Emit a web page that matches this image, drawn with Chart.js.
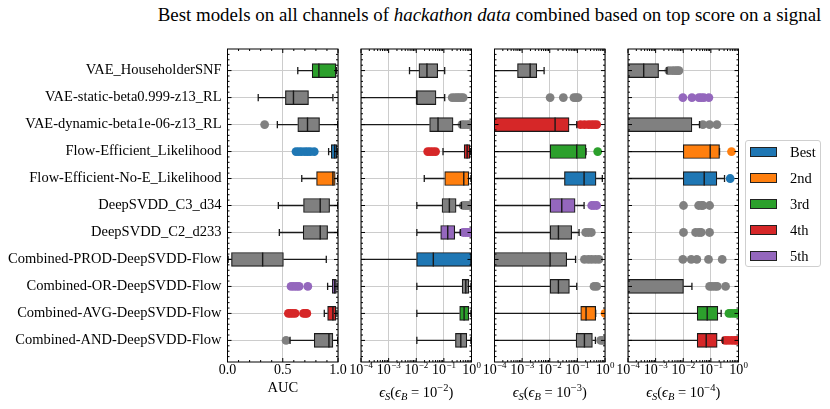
<!DOCTYPE html>
<html>
<head>
<meta charset="utf-8">
<title>Best models on all channels</title>
<script src="https://cdn.jsdelivr.net/npm/chart.js@4.4.1/dist/chart.umd.min.js"></script>
<style>
  body { margin: 0; background: #fff; }
  #fig { position: relative; width: 830px; height: 409px; font-family: 'Liberation Serif', 'DejaVu Serif', serif; color: #000; }
  #fig canvas { position: absolute; left: 0; top: 0; }
  #title { position: absolute; top: 4px; left: 489.5px; transform: translateX(-50%); white-space: nowrap; font-size: 18.9px; line-height: 22px; }
  #legend { position: absolute; left: 745px; top: 140px; width: 76px; height: 127px; border: 1px solid #cfcfcf; border-radius: 3px; box-sizing: border-box; }
  .item { position: absolute; left: 4px; height: 14px; font-size: 14.5px; line-height: 14px; }
  .swatch { position: absolute; left: 0; top: 1px; width: 27px; height: 10px; border: 1px solid #222; box-sizing: border-box; }
  .item span { position: absolute; left: 40px; top: -1px; white-space: nowrap; }
</style>
</head>
<body>
<div id="fig">
  <div id="title">Best models on all channels of <i>hackathon data</i> combined based on top score on a signal</div>
  <canvas id="p0" width="830" height="409"></canvas>
  <canvas id="p1" width="830" height="409"></canvas>
  <canvas id="p2" width="830" height="409"></canvas>
  <canvas id="p3" width="830" height="409"></canvas>
  <div id="legend"></div>
</div>
<script>
const SERIF = "'Liberation Serif', 'DejaVu Serif', serif";

const models = [
    'VAE_HouseholderSNF',
    'VAE-static-beta0.999-z13_RL',
    'VAE-dynamic-beta1e-06-z13_RL',
    'Flow-Efficient_Likelihood',
    'Flow-Efficient-No-E_Likelihood',
    'DeepSVDD_C3_d34',
    'DeepSVDD_C2_d233',
    'Combined-PROD-DeepSVDD-Flow',
    'Combined-OR-DeepSVDD-Flow',
    'Combined-AVG-DeepSVDD-Flow',
    'Combined-AND-DeepSVDD-Flow'
];

const rankNames = ['Best', '2nd', '3rd', '4th', '5th'];
const rankColors = ['#1f77b4', '#ff7f0e', '#2ca02c', '#d62728', '#9467bd'];
const otherColor = '#808080';

// rank of each model in a panel (index into rankNames, -1 = not ranked)
// boxes: [whisker low, Q1, median, Q3, whisker high], null = no box
const aucRanks = [2, -1, -1, 0, 1, -1, -1, -1, 4, 3, -1];
const aucBoxes = [
    [0.636, 0.766, 0.827, 0.981, 0.985],
    [0.278, 0.524, 0.597, 0.733, 0.954],
    [0.451, 0.636, 0.724, 0.833, 0.997],
    [0.915, 0.939, 0.970, 0.990, 0.998],
    [0.672, 0.806, 0.954, 0.975, 0.997],
    [0.460, 0.688, 0.839, 0.924, 0.997],
    [0.469, 0.685, 0.839, 0.906, 0.997],
    [0.006, 0.036, 0.318, 0.506, 0.894],
    [0.906, 0.948, 0.970, 0.985, 0.992],
    [0.876, 0.906, 0.954, 0.981, 0.990],
    [0.566, 0.785, 0.918, 0.954, 0.997]
];
const aucOutliers = [
    [], [], [0.336],
    [0.62, 0.645, 0.67, 0.70, 0.725, 0.75, 0.785],
    [], [], [], [],
    [0.575, 0.60, 0.625, 0.648, 0.727],
    [0.551, 0.57, 0.59, 0.612, 0.688, 0.705, 0.718],
    [0.53]
];

const eps2Ranks = [-1, -1, -1, 3, 1, -1, 4, 0, -1, 2, -1];
const eps2Boxes = [
    [0.0057, 0.0125, 0.0244, 0.0597, 0.107],
    [0, 0.0103, 0.0103, 0.0519, 0.107],
    [0, 0.0305, 0.0614, 0.215, 0.398],
    [0.093, 0.541, 0.695, 0.87, 0.93],
    [0.0195, 0.107, 0.525, 0.80, 0.95],
    [0.0105, 0.0857, 0.158, 0.277, 0.433],
    [0.0105, 0.0767, 0.138, 0.248, 0.398],
    [0, 0.0103, 0.0415, 0.97, 1.0],
    [0.0105, 0.458, 0.62, 0.80, 0.95],
    [0.0105, 0.373, 0.54, 0.80, 0.95],
    [0.0105, 0.262, 0.41, 0.676, 0.95]
];
const eps2Outliers = [
    [],
    [0.2, 0.25, 0.3, 0.35, 0.42, 0.5],
    [0.45, 0.55, 0.7, 0.85, 0.97],
    [0.026, 0.032, 0.04, 0.05],
    [],
    [0.5, 0.6, 0.7, 0.82, 0.95],
    [0.5, 0.6, 0.7, 0.82, 0.95],
    [], [], [], []
];

const eps3Ranks = [-1, -1, 3, 2, 0, 4, -1, -1, -1, 1, -1];
const eps3Boxes = [
    [0, 0.00068, 0.00195, 0.0034, 0.00625],
    null,
    [0, 0, 0.0156, 0.05, 0.095],
    [0, 0.0103, 0.095, 0.206, 0.206],
    [0, 0.034, 0.175, 0.474, 0.80],
    [0, 0.0103, 0.0272, 0.0826, 0.175],
    [0, 0.0103, 0.0206, 0.0625, 0.115],
    [0, 0, 0.0103, 0.0412, 0.086],
    [0, 0.0103, 0.0206, 0.0515, 0.095],
    [0, 0.132, 0.206, 0.46, 0.46],
    [0, 0.0898, 0.18, 0.35, 0.45]
];
const eps3Outliers = [
    [],
    [0.0103, 0.031, 0.075, 0.09, 0.105],
    [0.13, 0.18, 0.25, 0.32, 0.4, 0.5],
    [0.545],
    [],
    [0.33, 0.4, 0.5],
    [0.2, 0.25, 0.32],
    [0.18, 0.25, 0.33, 0.45, 0.6],
    [0.4, 0.5],
    [1.0],
    [0.7, 0.85, 1.0]
];

const eps4Ranks = [-1, 4, -1, 1, 0, -1, -1, -1, -1, 2, 3];
const eps4Boxes = [
    [0, 0, 0.00037, 0.00128, 0.00257],
    null,
    [0, 0, 0, 0.0206, 0.0389],
    [0, 0.01, 0.0946, 0.206, 0.206],
    [0, 0.01, 0.0574, 0.165, 0.312],
    null, null, null,
    [0, 0, 0, 0.0102, 0.0206],
    [0, 0.032, 0.0736, 0.179, 0.236],
    [0, 0.032, 0.0678, 0.169, 0.272]
];
const eps4Outliers = [
    [0.003, 0.004, 0.005, 0.006, 0.007],
    [0.0097, 0.0206, 0.0368, 0.045, 0.0558, 0.0847],
    [0.0514, 0.0895, 0.165],
    [0.558],
    [0.5],
    [0.0102, 0.036, 0.045, 0.052, 0.09],
    [0.0102, 0.028, 0.0368, 0.0447, 0.0895],
    [0.0097, 0.0195, 0.031, 0.082, 0.257],
    [0.09, 0.11, 0.14, 0.17, 0.34],
    [0.45, 0.55, 0.7, 0.85, 1.0],
    [0.33, 0.42, 0.55, 0.7, 0.85, 1.0]
];

const aucTicks = [0, 0.5, 1];
const aucTickLabels = ['0.0', '0.5', '1.0'];
const logTicks = [1e-4, 1e-3, 1e-2, 1e-1, 1];
const logTickExponents = ['\u22124', '\u22123', '\u22122', '\u22121', '0'];

// --- layout ---
const PANEL_W = 110.5;
const TOP = 49, BOTTOM = 362;

const panels = [
    { id: 'p0', left: 227.5, ranks: aucRanks, boxes: aucBoxes, outliers: aucOutliers, log: false, bExp: null },
    { id: 'p1', left: 361, ranks: eps2Ranks, boxes: eps2Boxes, outliers: eps2Outliers, log: true, bExp: '\u22122' },
    { id: 'p2', left: 494.5, ranks: eps3Ranks, boxes: eps3Boxes, outliers: eps3Outliers, log: true, bExp: '\u22123' },
    { id: 'p3', left: 628, ranks: eps4Ranks, boxes: eps4Boxes, outliers: eps4Outliers, log: true, bExp: '\u22124' }
];

const colorOf = r => r >= 0 ? rankColors[r] : otherColor;

// whiskers, caps and medians, drawn through the scales
const boxParts = {
    id: 'boxParts',
    afterDatasetsDraw(chart, args, opts) {
        const { ctx, chartArea: a, scales: { x, y } } = chart;
        const isLog = x.type === 'logarithmic';
        const px = v => (isLog && v <= 0) ? a.left - 20 : x.getPixelForValue(v);
        const ok = v => !(isLog && v <= 0);
        ctx.save();
        ctx.beginPath();
        ctx.rect(a.left, a.top, a.width, a.height);
        ctx.clip();
        ctx.strokeStyle = '#1a1a1a';
        ctx.lineWidth = 1.3;
        opts.boxes.forEach((b, i) => {
            if (!b) return;
            const [lo, q1, med, q3, hi] = b;
            const yc = y.getPixelForValue(i);
            const cap = 3.6, half = 7;
            ctx.beginPath();
            if (q1 > lo || !ok(q1)) {
                ctx.moveTo(px(lo), yc); ctx.lineTo(px(q1), yc);
            }
            if (hi > q3) {
                ctx.moveTo(px(q3), yc); ctx.lineTo(px(hi), yc);
            }
            if (ok(lo)) { ctx.moveTo(px(lo), yc - cap); ctx.lineTo(px(lo), yc + cap); }
            if (ok(hi)) { ctx.moveTo(px(hi), yc - cap); ctx.lineTo(px(hi), yc + cap); }
            ctx.stroke();
            if (ok(med)) {
                ctx.beginPath();
                ctx.lineWidth = 1.4;
                ctx.moveTo(px(med), yc - half); ctx.lineTo(px(med), yc + half);
                ctx.stroke();
                ctx.lineWidth = 1.3;
            }
        });
        ctx.restore();
    }
};

function drawSup(ctx, cx, base, main, sup, size) {
    const fMain = `${size}px ${SERIF}`;
    const fSup = `${size * 0.64}px ${SERIF}`;
    ctx.font = fMain; const w1 = ctx.measureText(main).width;
    ctx.font = fSup; const w2 = ctx.measureText(sup).width;
    let x0 = cx - (w1 + w2) / 2;
    ctx.textAlign = 'left';
    ctx.font = fMain; ctx.fillText(main, x0, base);
    ctx.font = fSup; ctx.fillText(sup, x0 + w1 + 0.3, base - size * 0.45);
}

function drawEpsTitle(ctx, cx, base, exp) {
    const big = 14.5, small = 10.5;
    const parts = [
        { t: '\u03F5', f: `italic ${big}px ${SERIF}`, dy: 0 },
        { t: 'S', f: `italic ${small}px ${SERIF}`, dy: 3 },
        { t: '(', f: `${big}px ${SERIF}`, dy: 0 },
        { t: '\u03F5', f: `italic ${big}px ${SERIF}`, dy: 0 },
        { t: 'B', f: `italic ${small}px ${SERIF}`, dy: 3 },
        { t: ' = 10', f: `${big}px ${SERIF}`, dy: 0 },
        { t: exp, f: `${small}px ${SERIF}`, dy: -6 },
        { t: ')', f: `${big}px ${SERIF}`, dy: 0 }
    ];
    let total = 0;
    parts.forEach(p => { ctx.font = p.f; p.w = ctx.measureText(p.t).width; total += p.w; });
    let xx = cx - total / 2;
    ctx.textAlign = 'left';
    parts.forEach(p => { ctx.font = p.f; ctx.fillText(p.t, xx, base + p.dy); xx += p.w; });
}

// frame, inward ticks and x labels
const frame = {
    id: 'frame',
    afterDraw(chart, args, opts) {
        const { ctx, chartArea: a, scales: { x, y } } = chart;
        ctx.save();
        ctx.strokeStyle = '#000';
        ctx.lineWidth = 1;
        ctx.strokeRect(a.left, a.top, a.width, a.height);
        ctx.beginPath();
        const xTick = (v, len) => {
            const p = x.getPixelForValue(v);
            ctx.moveTo(p, a.bottom); ctx.lineTo(p, a.bottom - len);
            ctx.moveTo(p, a.top); ctx.lineTo(p, a.top + len);
        };
        const yTick = (v, len) => {
            const p = y.getPixelForValue(v);
            ctx.moveTo(a.left, p); ctx.lineTo(a.left + len, p);
            ctx.moveTo(a.right, p); ctx.lineTo(a.right - len, p);
        };
        opts.majors.forEach(v => xTick(v, 4));
        if (opts.log) {
            for (let e = -4; e < 0; e++) for (let k = 2; k <= 9; k++) xTick(k * Math.pow(10, e), 2);
        } else {
            for (let k = 1; k < 10; k++) if (k !== 5) xTick(k / 10, 2);
        }
        models.forEach((_, i) => yTick(i, 4));
        for (let k = -3; k <= 53; k++) if (k % 5 !== 0) yTick(k * 0.2, 2);
        ctx.stroke();

        ctx.fillStyle = '#000';
        ctx.textBaseline = 'alphabetic';
        const base = 374;
        opts.majors.forEach((v, i) => {
            const p = x.getPixelForValue(v);
            if (opts.log) {
                drawSup(ctx, p, base, '10', logTickExponents[i], 14);
            } else {
                ctx.font = `14px ${SERIF}`;
                ctx.textAlign = 'center';
                ctx.fillText(aucTickLabels[i], p, base);
            }
        });
        const cx = (a.left + a.right) / 2;
        if (opts.log) {
            drawEpsTitle(ctx, cx, 397, opts.bExp);
        } else {
            ctx.font = `14.5px ${SERIF}`;
            ctx.textAlign = 'center';
            ctx.fillText('AUC', cx, 392);
        }
        ctx.restore();
    }
};

panels.forEach((p, n) => {
    const first = n === 0;
    // a zero has no place on a log axis: start such boxes far left of the plot, where they are clipped
    const lowEnd = v => (p.log && v <= 0) ? 1e-12 : v;
    const boxData = [], boxColors = [];
    p.boxes.forEach((b, i) => {
        if (!b) return;
        boxData.push({ x: [lowEnd(b[1]), b[3]], y: i });
        boxColors.push(colorOf(p.ranks[i]));
    });
    const outData = [], outColors = [];
    p.outliers.forEach((list, i) => {
        list.forEach(v => {
            outData.push({ x: v, y: i });
            outColors.push(colorOf(p.ranks[i]));
        });
    });
    const majors = p.log ? logTicks : aucTicks;

    new Chart(document.getElementById(p.id), {
        type: 'bar',
        data: {
            datasets: [
                {
                    type: 'bar',
                    indexAxis: 'y',
                    data: boxData,
                    backgroundColor: boxColors,
                    borderColor: '#1a1a1a',
                    borderWidth: 1.2,
                    borderSkipped: false,
                    barThickness: 14,
                    clip: 0,
                    order: 2
                },
                {
                    type: 'scatter',
                    data: outData,
                    backgroundColor: outColors,
                    pointRadius: 4.4,
                    pointHoverRadius: 4.4,
                    borderWidth: 0,
                    clip: 0,
                    order: 1
                }
            ]
        },
        options: {
            responsive: false,
            animation: false,
            devicePixelRatio: 1,
            events: [],
            layout: { padding: { left: first ? 0 : p.left, right: 830 - p.left - PANEL_W, top: TOP, bottom: 0 } },
            plugins: {
                legend: { display: false },
                tooltip: { enabled: false },
                boxParts: { boxes: p.boxes },
                frame: { majors: majors, log: p.log, bExp: p.bExp }
            },
            scales: {
                x: {
                    type: p.log ? 'logarithmic' : 'linear',
                    min: p.log ? 1e-4 : 0,
                    max: 1,
                    offset: false,
                    grid: { color: '#cccccc', lineWidth: 1, drawTicks: false, offset: false },
                    border: { display: false },
                    ticks: { display: false },
                    afterBuildTicks: s => { s.ticks = majors.map(v => ({ value: v })); },
                    afterFit: s => { s.height = 409 - BOTTOM; }
                },
                y: {
                    type: 'linear',
                    reverse: true,
                    min: -0.8,
                    max: 10.8,
                    offset: false,
                    grid: { color: '#cccccc', lineWidth: 1, drawTicks: false, offset: false },
                    border: { display: false },
                    ticks: first ? {
                        display: true,
                        autoSkip: false,
                        padding: 6,
                        color: '#000',
                        font: { family: SERIF, size: 14.5 },
                        callback: v => models[v]
                    } : { display: false },
                    afterBuildTicks: s => { s.ticks = models.map((_, i) => ({ value: i })); },
                    afterFit: s => { s.width = first ? p.left : 0; }
                }
            }
        },
        plugins: [boxParts, frame]
    });
});

// --- legend ---
const legend = document.getElementById('legend');
rankNames.forEach((name, i) => {
    const item = document.createElement('div');
    item.className = 'item';
    item.style.top = (5 + i * 26) + 'px';
    item.innerHTML = `<div class="swatch" style="background:${rankColors[i]}"></div><span>${name}</span>`;
    legend.appendChild(item);
});
</script>
</body>
</html>
